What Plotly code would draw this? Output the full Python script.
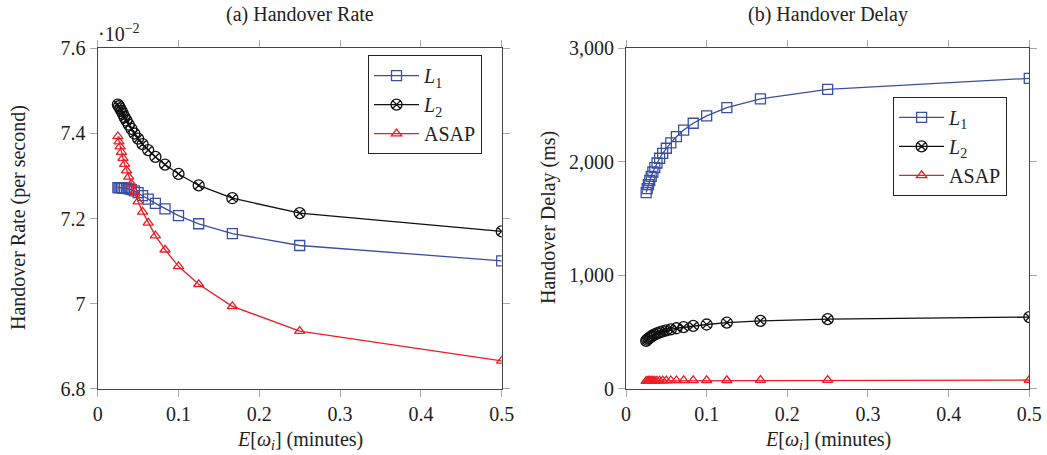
import plotly.graph_objects as go

# x values: E[w_i] in minutes
x_vals = [0.5, 0.25, 0.16667, 0.125, 0.1, 0.08333, 0.07143, 0.0625, 0.05556, 0.05,
          0.04545, 0.04167, 0.03846, 0.03571, 0.03333, 0.03125, 0.02941, 0.02778, 0.02632, 0.025]

# (a) Handover rate (x 10^-2 per second)
rate_L1 = [7.101, 7.137, 7.165, 7.188, 7.207, 7.223, 7.236, 7.246, 7.254, 7.261,
           7.265, 7.268, 7.270, 7.271, 7.272, 7.272, 7.273, 7.273, 7.273, 7.273]
rate_L2 = [7.170, 7.213, 7.248, 7.278, 7.305, 7.327, 7.345, 7.361, 7.375, 7.388,
           7.400, 7.411, 7.421, 7.430, 7.438, 7.446, 7.453, 7.459, 7.464, 7.468]
rate_ASAP = [6.866, 6.936, 6.994, 7.046, 7.088, 7.127, 7.160, 7.190, 7.216, 7.240,
             7.263, 7.282, 7.298, 7.313, 7.328, 7.342, 7.356, 7.369, 7.381, 7.393]

# (b) Handover delay (ms)
delay_L1 = [2736, 2638, 2555, 2478, 2405, 2340, 2280, 2222, 2168, 2120,
            2075, 2032, 1990, 1950, 1911, 1873, 1836, 1800, 1765, 1730]
delay_L2 = [633, 615, 600, 585, 568, 556, 545, 535, 525, 516,
            507, 498, 489, 480, 471, 462, 453, 444, 434, 424]
delay_ASAP = [79, 78, 78, 77, 77, 76, 76, 75, 75, 74,
              74, 73, 73, 72, 72, 72, 71, 71, 70, 70]

left_ticks = [6.8, 7.0, 7.2, 7.4, 7.6]
left_ticktext = ["6.8", "7", "7.2", "7.4", "7.6"]
right_ticks = [0, 1000, 2000, 3000]
x_ticks = [0, 0.1, 0.2, 0.3, 0.4, 0.5]

names = ["<i>L</i><sub>1</sub>", "<i>L</i><sub>2</sub>", "ASAP"]
colors = ["#3a4fa3", "#111111", "#ee1c24"]
symbols = ["square-open", "circle-x-open", "triangle-up-open"]
sizes = [10, 11, 9]

FONT = "Liberation Serif"

fig = go.Figure()

for ys, nm, c, s, sz in zip([rate_L1, rate_L2, rate_ASAP], names, colors, symbols, sizes):
    fig.add_trace(go.Scatter(x=x_vals, y=ys, name=nm, mode="lines+markers",
                             line=dict(color=c, width=1.3),
                             marker=dict(symbol=s, size=sz, color=c, line=dict(width=1.3, color=c)),
                             xaxis="x", yaxis="y", legend="legend"))
for ys, nm, c, s, sz in zip([delay_L1, delay_L2, delay_ASAP], names, colors, symbols, sizes):
    fig.add_trace(go.Scatter(x=x_vals, y=ys, name=nm, mode="lines+markers",
                             line=dict(color=c, width=1.3),
                             marker=dict(symbol=s, size=sz, color=c, line=dict(width=1.3, color=c)),
                             xaxis="x2", yaxis="y2", legend="legend2"))

axis_common = dict(showgrid=False, zeroline=False, showline=True, linecolor="#444444", linewidth=1.2,
                   mirror="ticks", ticks="outside", ticklen=7, tickcolor="#aaaaaa", tickwidth=1,
                   automargin=False,
                   tickfont=dict(family=FONT, size=20, color="#222222"))

fig.update_layout(
    template="none",
    width=1047, height=455,
    margin=dict(l=0, r=0, t=0, b=0, autoexpand=False),
    paper_bgcolor="white", plot_bgcolor="white",
    font=dict(family=FONT, size=20, color="#222222"),
    xaxis=dict(domain=[0.0933, 0.4792], range=[0, 0.5], tickvals=x_ticks, anchor="y", **axis_common),
    yaxis=dict(domain=[0.1451, 0.8938], range=[6.8, 7.6], tickvals=left_ticks, ticktext=left_ticktext,
               anchor="x", **axis_common),
    xaxis2=dict(domain=[0.5979, 0.9831], range=[0, 0.5], tickvals=x_ticks, anchor="y2", **axis_common),
    yaxis2=dict(domain=[0.1451, 0.8938], range=[0, 3000], tickvals=right_ticks, tickformat=",",
                anchor="x2", **axis_common),
    legend=dict(x=0.3515, y=0.879, xanchor="left", yanchor="top", bgcolor="white",
                bordercolor="#222222", borderwidth=1, font=dict(family=FONT, size=20),
                tracegroupgap=0, itemwidth=45),
    legend2=dict(x=0.853, y=0.787, xanchor="left", yanchor="top", bgcolor="white",
                 bordercolor="#222222", borderwidth=1, font=dict(family=FONT, size=20),
                 tracegroupgap=0, itemwidth=45),
    showlegend=True,
)

ann = [
    dict(text="(a) Handover Rate", x=0.2862, y=1 - 14 / 455, xref="paper", yref="paper",
         xanchor="center", yanchor="middle", showarrow=False, font=dict(family=FONT, size=20)),
    dict(text="(b) Handover Delay", x=0.7905, y=1 - 14 / 455, xref="paper", yref="paper",
         xanchor="center", yanchor="middle", showarrow=False, font=dict(family=FONT, size=20)),
    dict(text="Handover Rate (per second)", x=18 / 1047, y=1 - 218 / 455, xref="paper", yref="paper",
         xanchor="center", yanchor="middle", textangle=-90, showarrow=False, font=dict(family=FONT, size=20)),
    dict(text="Handover Delay (ms)", x=548 / 1047, y=1 - 218 / 455, xref="paper", yref="paper",
         xanchor="center", yanchor="middle", textangle=-90, showarrow=False, font=dict(family=FONT, size=20)),
    dict(text="<i>E</i>[<i>ω<sub>i</sub></i>] (minutes)", x=0.2862, y=1 - 440 / 455, xref="paper",
         yref="paper", xanchor="center", yanchor="middle", showarrow=False, font=dict(family=FONT, size=20)),
    dict(text="<i>E</i>[<i>ω<sub>i</sub></i>] (minutes)", x=0.7905, y=1 - 440 / 455, xref="paper",
         yref="paper", xanchor="center", yanchor="middle", showarrow=False, font=dict(family=FONT, size=20)),
    dict(text="·10<sup>−2</sup>", x=96 / 1047, y=1 - 33 / 455, xref="paper", yref="paper",
         xanchor="left", yanchor="middle", showarrow=False, font=dict(family=FONT, size=20)),
]
fig.update_layout(annotations=ann)

fig.write_html("out.html", config={"displayModeBar": False},
               post_script="document.body.style.margin='0';document.body.style.overflow='hidden';")
